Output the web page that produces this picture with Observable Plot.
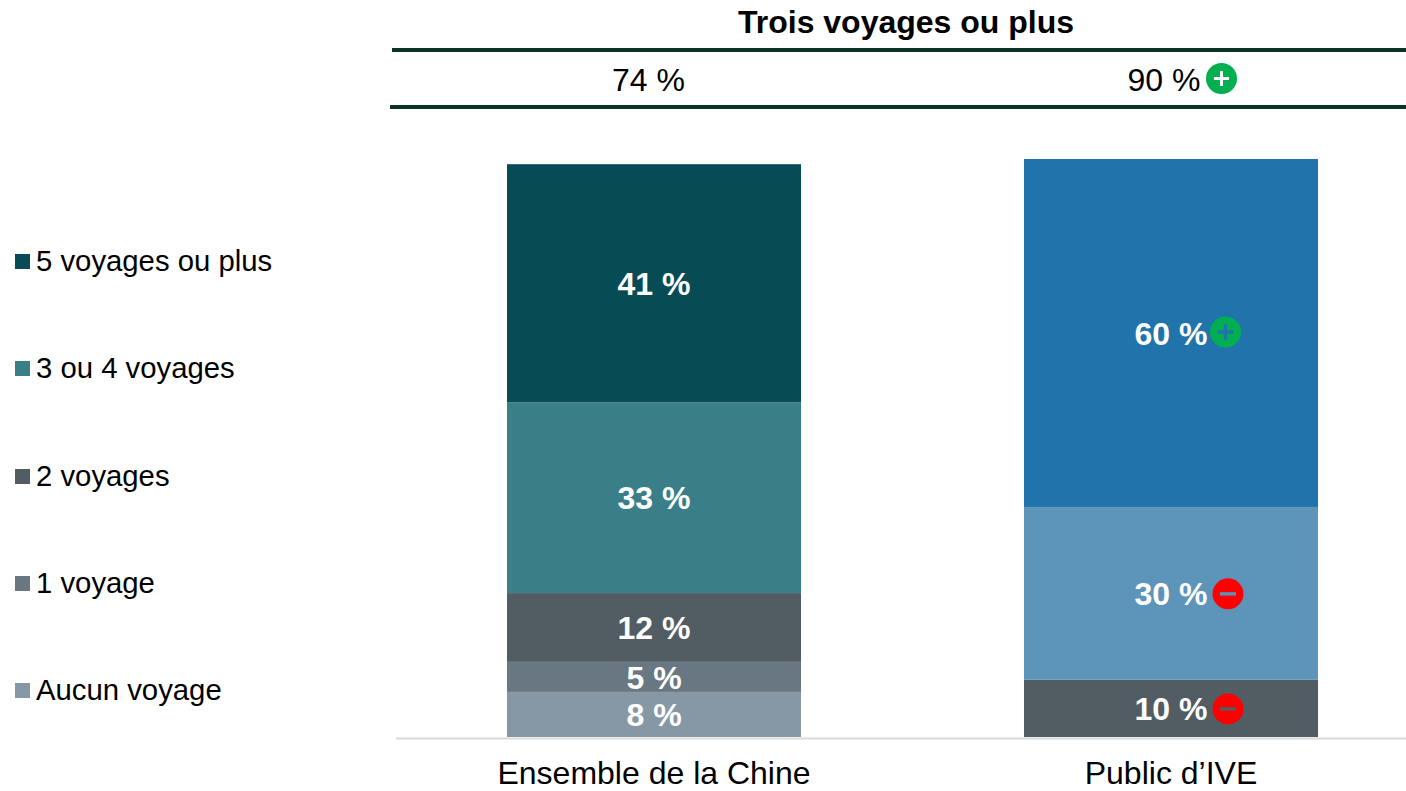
<!DOCTYPE html>
<html lang="fr">
<head>
<meta charset="utf-8">
<script src="https://cdn.jsdelivr.net/npm/d3@7"></script>
<script src="https://cdn.jsdelivr.net/npm/@observablehq/plot@0.6"></script>
<style>
  html, body { margin: 0; padding: 0; background: #fff; }
  body { font-family: "Liberation Sans", Arial, sans-serif; color: #000; }
  #page { position: relative; width: 1406px; height: 791px; overflow: hidden; }
  #page svg.plot { position: absolute; left: 0; top: 0; }
  .abs { position: absolute; white-space: nowrap; }
  .head { font-size: 32px; line-height: 36px; transform: translateX(-50%); }
  .rule { position: absolute; height: 4px; right: 0; background: #0B3327; }
  .badge { position: absolute; width: 31px; height: 31px; border-radius: 50%; background: #00B050; }
  .badge::before, .badge::after { content: ""; position: absolute; background: #fff; }
  .badge::before { left: 8px; right: 8px; top: 14px; height: 3px; }
  .badge::after { top: 8px; bottom: 8px; left: 14px; width: 3px; }
  #legend { position: absolute; left: 15px; top: 243px; display: flex; flex-direction: column; gap: 71.3px; }
  #legend div { display: flex; align-items: center; height: 36px; font-size: 29.3px; white-space: nowrap; }
  #legend i { width: 15px; height: 15px; margin-right: 6px; margin-top: 1px; display: block; }
</style>
</head>
<body>
<div id="page"></div>
<script>
const groups = ["Ensemble de la Chine", "Public d’IVE"];
const legendNames = ["5 voyages ou plus", "3 ou 4 voyages", "2 voyages", "1 voyage", "Aucun voyage"];
const legendColors = ["#074B55", "#3A7E87", "#515C63", "#687781", "#8698A6"];

// Listed bottom to top, labels as printed.
const chinaValues = [7.8, 5.2, 11.9, 33.0, 41.2];
const chinaLabels = ["8 %", "5 %", "12 %", "33 %", "41 %"];
const chinaColors = ["#8698A6", "#687781", "#515C63", "#3A7E87", "#074B55"];

const iveValues = [9.9, 29.9, 60.2];
const iveLabels = ["10 %", "30 %", "60 %"];
const iveColors = ["#515C63", "#5D94BA", "#2073AB"];
const iveBadges = ["minus", "minus", "plus"];

const headerTitle = "Trois voyages ou plus";
const headerValues = ["74 %", "90 %"];

const rows = [
  ...chinaValues.map((value, i) => ({group: groups[0], value, label: chinaLabels[i], color: chinaColors[i], badge: null})),
  ...iveValues.map((value, i) => ({group: groups[1], value, label: iveLabels[i], color: iveColors[i], badge: iveBadges[i]}))
];

const stacked = (extra) => Plot.stackY({x: "group", y: "value", z: "color", order: null, ...extra});

const cutout = (withVertical) => ({
  draw(ctx, size) {
    const r = Math.sqrt(size / Math.PI);
    const a = r * 0.52, t = r * 0.11;
    ctx.rect(-a, -t, 2 * a, 2 * t);
    if (withVertical) ctx.rect(-t, -a, 2 * t, 2 * a);
  }
});

const badgeMarks = (kind, fill, dx, dy) => [
  Plot.dot(rows, Plot.filter(d => d.badge === kind, stacked({r: 15.5, fill, dx, dy}))),
  Plot.dot(rows, Plot.filter(d => d.badge === kind, stacked({r: 15.5, fill: "color", dx, dy, symbol: cutout(kind === "plus")})))
];

const chart = Plot.plot({
  width: 1406,
  height: 791,
  marginLeft: 396,
  marginRight: 0,
  marginTop: 159,
  marginBottom: 54,
  style: {fontFamily: "'Liberation Sans', Arial, sans-serif", background: "transparent", overflow: "visible"},
  x: {domain: groups, range: [396, 1429], paddingInner: 0.4313, paddingOuter: 0.2147, round: false, label: null},
  y: {domain: [0, 100], axis: null},
  color: {type: "identity"},
  marks: [
    Plot.ruleY([0], {stroke: "#D9D9D9", strokeWidth: 2, dy: 1}),
    Plot.barY(rows, stacked({fill: "color"})),
    Plot.text(rows, stacked({text: "label", fill: "#fff", fontSize: 32, fontWeight: "bold", dx: -0.5, dy: 1})),
    ...badgeMarks("plus", "#00B050", 54, -1.5),
    ...badgeMarks("minus", "#FF0000", 56.5, 0),
    Plot.axisX({tickSize: 0, tickPadding: 24, fontSize: 32, fill: "#000", label: null, dx: -0.5})
  ]
});

const page = document.getElementById("page");
page.appendChild(chart);

function add(cls, css, text) {
  const el = document.createElement("div");
  el.className = cls;
  el.style.cssText = css;
  if (text) el.textContent = text;
  page.appendChild(el);
  return el;
}
add("abs head", "left:906px;top:4px;font-weight:bold;", headerTitle);
add("rule", "left:392px;top:48px;");
add("abs head", "left:648.5px;top:62px;", headerValues[0]);
add("abs head", "left:1164px;top:62px;", headerValues[1]);
add("badge", "left:1206px;top:63px;");
add("rule", "left:390px;top:105px;");

const legend = add("", "");
legend.id = "legend";
legendNames.forEach((name, i) => {
  const row = document.createElement("div");
  const swatch = document.createElement("i");
  swatch.style.background = legendColors[i];
  row.appendChild(swatch);
  row.appendChild(document.createTextNode(name));
  legend.appendChild(row);
});
</script>
</body>
</html>
